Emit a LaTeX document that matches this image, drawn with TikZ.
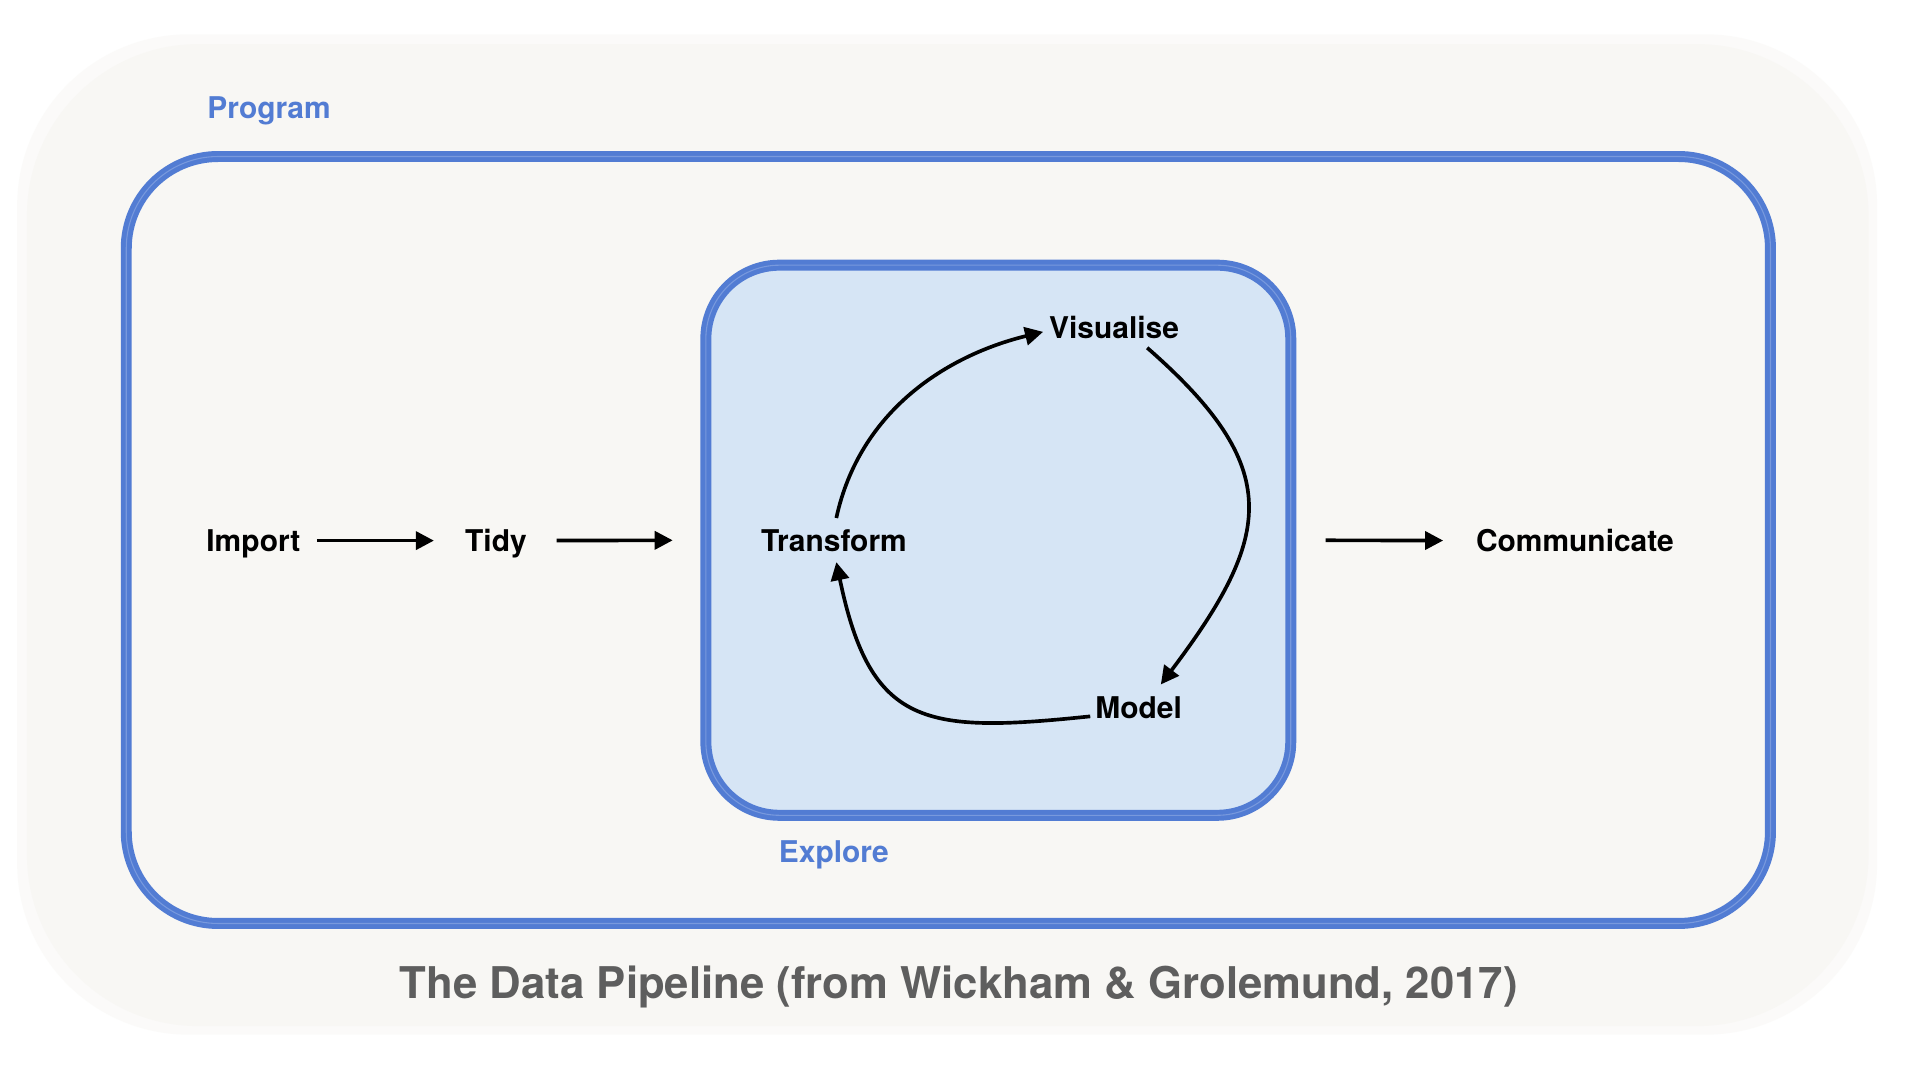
\documentclass[tikz,border=0pt]{standalone}
\usepackage{fontspec}
\setmainfont{TeX Gyre Heros}
\usetikzlibrary{arrows.meta}
\definecolor{paper}{HTML}{F8F7F4}
\definecolor{frameblue}{HTML}{527CD3}
\definecolor{explorefill}{HTML}{D6E5F5}
\definecolor{titlegray}{HTML}{5E5E5E}
\begin{document}
\begin{tikzpicture}[x=0.01cm,y=-0.01cm,
  lbl/.style={font=\fontsize{6.95}{8}\selectfont\bfseries, inner sep=0pt, outer sep=0pt,
              text height=4.98pt, text depth=0pt},
  bluelbl/.style={lbl, text=frameblue},
  titlelbl/.style={font=\fontsize{10.15}{12}\selectfont\bfseries, inner sep=0pt, outer sep=0pt,
              text height=7.3pt, text depth=0pt, text=titlegray},
  frame/.style={draw=frameblue, line width=1.15pt, double=frameblue!78!white,
              double distance=0.25pt, inner sep=0pt, outer sep=0pt, rectangle},
  arr/.style={line width=0.85pt, -{Triangle[length=4.2pt,width=4.2pt]}},
  blob/.style={fill=paper, rounded corners=1.4cm}
]
\useasboundingbox (0,0) rectangle (1568,882);
\fill[white] (0,0) rectangle (1568,882);
% soft off-white background blob
\fill[blob, opacity=0.5] (14,28) rectangle (1533,845);
\fill[blob] (22,36) rectangle (1526,838);

% frames
\node[frame, fill=paper, minimum width=13.42cm, minimum height=6.26cm, rounded corners=0.75cm]
  (program) at (774.5,441) {};
\node[frame, fill=explorefill, minimum width=4.774cm, minimum height=4.49cm, rounded corners=0.6cm]
  (explore) at (815.3,441.2) {};

% labels
\node[bluelbl] (proglabel) at (219.7,88.4) {Program};
\node[bluelbl] (explabel) at (681,695.5) {Explore};
\node[lbl] (import) at (206.9,441.5) {Import};
\node[lbl] (tidy) at (405,441.5) {Tidy};
\node[lbl] (transform) at (681,441.5) {Transform};
\node[lbl] (visualise) at (909.8,267.5) {Visualise};
\node[lbl] (model) at (929.9,578) {Model};
\node[lbl] (communicate) at (1286.2,441.5) {Communicate};
\node[titlelbl] (title) at (783,803) {The Data Pipeline (from Wickham \& Grolemund, 2017)};

% straight arrows
\draw[arr, shorten <=3.87pt, shorten >=7.26pt] (import.east) -- (tidy.west);
\draw[arr, shorten <=6.94pt, shorten >=7.7pt] (tidy.east) -- (explore.west);
\draw[arr, shorten <=8.1pt, shorten >=7.65pt] (explore.east) -- (communicate.west);

% cycle
\draw[arr] ([xshift=0.57pt,yshift=2.76pt]transform.north)
  .. controls +(19,-88) and +(-78,19) .. ([xshift=-1.4pt,yshift=-1pt]visualise.west);
\draw[arr] ([xshift=7.7pt,yshift=-4.7pt]visualise.center)
  .. controls +(112,98) and +(92,-122) .. ([xshift=5.15pt,yshift=5.4pt]model.center);
\draw[arr] ([xshift=-1.2pt,yshift=-2pt]model.west)
  .. controls +(-135,14) and +(28,135) .. ([xshift=0.57pt,yshift=-5pt]transform.center);
\end{tikzpicture}
\end{document}
